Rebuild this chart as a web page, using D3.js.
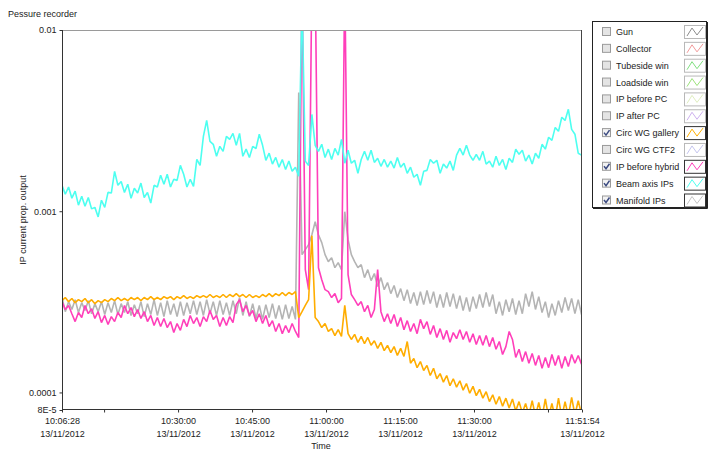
<!DOCTYPE html>
<html>
<head>
<meta charset="utf-8">
<script src="https://cdn.jsdelivr.net/npm/d3@7"></script>
<style>
  body { margin: 0; background: #fff; }
  text { font-family: "Liberation Sans", Arial, sans-serif; font-size: 9px; fill: #222; }
</style>
</head>
<body>
<div id="chart"></div>
<script>
// recording window, one sample every 40 s
var startTime = new Date(2012, 10, 13, 10, 6, 28);
var endTime = new Date(2012, 10, 13, 11, 51, 54);
var sampleStep = 40;

var beamAxisIPs = [
  1.39e-3,1.24e-3,1.36e-3,1.18e-3,1.29e-3,1.08e-3,1.21e-3,1.065e-3,1.19e-3,1.03e-3,
  1.05e-3,0.93e-3,1.15e-3,1.05e-3,1.27e-3,1.26e-3,1.66e-3,1.39e-3,1.46e-3,1.27e-3,
  1.41e-3,1.18e-3,1.34e-3,1.26e-3,1.43e-3,1.19e-3,1.27e-3,1.11e-3,1.39e-3,1.36e-3,
  1.58e-3,1.41e-3,1.60e-3,1.36e-3,1.50e-3,1.48e-3,1.79e-3,1.60e-3,1.36e-3,1.50e-3,
  1.37e-3,1.93e-3,1.79e-3,2.59e-3,3.17e-3,2.43e-3,2.34e-3,2.01e-3,2.28e-3,2.14e-3,
  2.59e-3,2.49e-3,2.69e-3,2.31e-3,2.69e-3,2.01e-3,2.20e-3,1.98e-3,2.28e-3,2.22e-3,
  2.66e-3,2.31e-3,1.91e-3,2.09e-3,1.82e-3,1.98e-3,1.75e-3,1.93e-3,1.70e-3,1.89e-3,
  1.66e-3,1.75e-3,1.56e-3,1.5e-2,1.89e-3,1.79e-3,3.42e-3,2.31e-3,2.14e-3,2.34e-3,
  1.98e-3,2.20e-3,1.93e-3,2.22e-3,2.04e-3,2.49e-3,1.84e-3,2.17e-3,1.84e-3,1.91e-3,
  1.62e-3,1.93e-3,2.14e-3,1.91e-3,2.17e-3,1.86e-3,1.96e-3,1.77e-3,1.93e-3,1.75e-3,
  1.89e-3,1.73e-3,1.98e-3,1.75e-3,1.84e-3,1.62e-3,1.75e-3,1.54e-3,1.60e-3,1.39e-3,
  1.66e-3,1.68e-3,1.93e-3,1.84e-3,1.91e-3,1.62e-3,1.82e-3,1.73e-3,1.89e-3,1.68e-3,
  2.04e-3,2.22e-3,2.04e-3,2.31e-3,2.04e-3,1.91e-3,2.06e-3,1.91e-3,2.14e-3,1.82e-3,
  1.89e-3,1.75e-3,2.01e-3,1.79e-3,1.93e-3,1.70e-3,1.96e-3,1.86e-3,2.20e-3,2.06e-3,
  2.17e-3,1.89e-3,2.04e-3,1.82e-3,2.09e-3,1.96e-3,2.34e-3,2.20e-3,2.56e-3,2.46e-3,
  2.90e-3,2.76e-3,3.30e-3,3.17e-3,3.65e-3,2.83e-3,2.66e-3,2.09e-3,2.04e-3
];

var circWGGallery = [
  3.21e-4,3.34e-4,3.17e-4,3.30e-4,3.13e-4,3.25e-4,3.17e-4,3.30e-4,3.13e-4,3.25e-4,
  3.09e-4,3.21e-4,3.13e-4,3.25e-4,3.17e-4,3.30e-4,3.21e-4,3.34e-4,3.21e-4,3.30e-4,
  3.21e-4,3.34e-4,3.25e-4,3.34e-4,3.21e-4,3.34e-4,3.25e-4,3.38e-4,3.25e-4,3.34e-4,
  3.25e-4,3.38e-4,3.30e-4,3.38e-4,3.25e-4,3.38e-4,3.30e-4,3.42e-4,3.30e-4,3.38e-4,
  3.30e-4,3.42e-4,3.34e-4,3.42e-4,3.34e-4,3.47e-4,3.34e-4,3.42e-4,3.34e-4,3.47e-4,
  3.34e-4,3.47e-4,3.38e-4,3.51e-4,3.38e-4,3.47e-4,3.34e-4,3.47e-4,3.34e-4,3.42e-4,
  3.34e-4,3.47e-4,3.38e-4,3.51e-4,3.38e-4,3.51e-4,3.42e-4,3.56e-4,3.42e-4,3.56e-4,
  3.47e-4,3.60e-4,2.59e-4,2.79e-4,3.02e-4,3.25e-4,7.33e-4,2.59e-4,2.46e-4,2.28e-4,
  2.40e-4,2.17e-4,2.25e-4,2.06e-4,2.22e-4,2.04e-4,3.02e-4,2.11e-4,1.96e-4,2.09e-4,
  1.89e-4,2.04e-4,1.86e-4,2.01e-4,1.82e-4,1.93e-4,1.75e-4,1.89e-4,1.70e-4,1.82e-4,
  1.66e-4,1.79e-4,1.60e-4,1.75e-4,1.58e-4,1.91e-4,1.45e-4,1.54e-4,1.37e-4,1.48e-4,
  1.32e-4,1.41e-4,1.24e-4,1.36e-4,1.19e-4,1.27e-4,1.14e-4,1.24e-4,1.09e-4,1.19e-4,
  1.07e-4,1.16e-4,1.03e-4,1.12e-4,0.99e-4,1.08e-4,0.96e-4,1.04e-4,0.93e-4,1.01e-4,
  0.89e-4,0.97e-4,0.86e-4,0.95e-4,0.84e-4,0.93e-4,0.82e-4,0.92e-4,0.79e-4,0.89e-4,
  0.77e-4,0.87e-4,0.75e-4,0.90e-4,0.74e-4,0.88e-4,0.73e-4,0.92e-4,0.73e-4,0.87e-4,
  0.72e-4,0.93e-4,0.73e-4,0.89e-4,0.74e-4,0.94e-4,0.75e-4,0.90e-4,0.76e-4
];

var ipBeforeHybrid = [
  3.17e-4,2.87e-4,3.02e-4,2.72e-4,2.46e-4,2.76e-4,2.59e-4,3.02e-4,2.72e-4,2.90e-4,
  2.56e-4,2.79e-4,2.43e-4,2.66e-4,2.37e-4,2.62e-4,2.46e-4,2.76e-4,2.59e-4,3.02e-4,
  2.72e-4,2.94e-4,2.62e-4,2.87e-4,2.56e-4,2.79e-4,2.46e-4,2.66e-4,2.34e-4,2.59e-4,
  2.31e-4,2.56e-4,2.28e-4,2.46e-4,2.14e-4,2.40e-4,2.20e-4,2.53e-4,2.31e-4,2.66e-4,
  2.40e-4,2.59e-4,2.31e-4,2.62e-4,2.46e-4,2.83e-4,2.53e-4,2.66e-4,2.31e-4,2.59e-4,
  2.34e-4,2.62e-4,2.43e-4,3.05e-4,3.25e-4,2.79e-4,3.02e-4,2.66e-4,2.83e-4,2.46e-4,
  2.72e-4,2.40e-4,2.66e-4,2.31e-4,2.49e-4,2.17e-4,2.40e-4,2.11e-4,2.34e-4,2.14e-4,
  2.40e-4,2.17e-4,2.01e-4,2.0e-2,4.76e-4,3.69e-4,2.0e-2,2.0e-2,4.88e-4,4.19e-4,
  3.69e-4,3.60e-4,3.34e-4,3.51e-4,3.13e-4,3.30e-4,2.0e-2,4.47e-4,3.47e-4,3.25e-4,
  3.02e-4,3.17e-4,2.79e-4,3.02e-4,2.59e-4,2.87e-4,4.76e-4,2.79e-4,2.46e-4,2.72e-4,
  2.40e-4,2.69e-4,2.31e-4,2.59e-4,2.22e-4,2.49e-4,2.17e-4,2.40e-4,2.11e-4,2.53e-4,
  2.25e-4,2.46e-4,2.09e-4,2.34e-4,2.01e-4,2.25e-4,1.96e-4,2.20e-4,1.89e-4,2.14e-4,
  1.98e-4,2.22e-4,1.96e-4,2.17e-4,1.89e-4,2.11e-4,1.84e-4,2.06e-4,1.82e-4,2.06e-4,
  1.79e-4,2.01e-4,1.73e-4,1.91e-4,1.62e-4,1.79e-4,2.17e-4,1.96e-4,1.56e-4,1.73e-4,
  1.48e-4,1.68e-4,1.45e-4,1.64e-4,1.41e-4,1.60e-4,1.36e-4,1.56e-4,1.37e-4,1.62e-4,
  1.41e-4,1.60e-4,1.36e-4,1.58e-4,1.39e-4,1.62e-4,1.45e-4,1.60e-4,1.43e-4
];

var manifoldIPs = [
  3.34e-4,2.79e-4,3.17e-4,2.87e-4,3.25e-4,2.76e-4,3.13e-4,2.83e-4,3.21e-4,2.72e-4,
  3.09e-4,2.79e-4,3.17e-4,2.69e-4,3.13e-4,2.76e-4,3.21e-4,2.69e-4,3.09e-4,2.76e-4,
  3.17e-4,2.66e-4,3.05e-4,2.72e-4,3.17e-4,2.62e-4,3.09e-4,2.69e-4,3.25e-4,2.66e-4,
  3.13e-4,2.62e-4,3.21e-4,2.69e-4,3.09e-4,2.62e-4,3.17e-4,2.66e-4,3.13e-4,2.72e-4,
  3.21e-4,2.69e-4,3.17e-4,2.66e-4,3.25e-4,2.72e-4,3.17e-4,2.66e-4,3.21e-4,2.69e-4,
  3.13e-4,2.66e-4,3.21e-4,2.72e-4,3.34e-4,2.66e-4,3.17e-4,2.62e-4,3.09e-4,2.56e-4,
  3.02e-4,2.53e-4,3.05e-4,2.59e-4,3.09e-4,2.56e-4,3.02e-4,2.53e-4,3.05e-4,2.56e-4,
  2.98e-4,2.53e-4,4.52e-3,5.76e-4,6.14e-4,6.54e-4,7.42e-4,8.75e-4,7.42e-4,6.71e-4,
  5.76e-4,5.27e-4,5.54e-4,4.88e-4,5.20e-4,4.76e-4,9.94e-4,6.97e-4,5.76e-4,5.27e-4,
  4.88e-4,5.07e-4,4.30e-4,4.76e-4,4.14e-4,4.53e-4,3.84e-4,4.30e-4,3.69e-4,4.04e-4,
  3.51e-4,3.89e-4,3.34e-4,3.74e-4,3.21e-4,3.69e-4,3.09e-4,3.56e-4,3.02e-4,3.60e-4,
  3.05e-4,3.65e-4,3.09e-4,3.60e-4,2.94e-4,3.47e-4,2.94e-4,3.56e-4,2.98e-4,3.51e-4,
  2.90e-4,3.42e-4,2.83e-4,3.34e-4,2.79e-4,3.38e-4,2.90e-4,3.47e-4,2.94e-4,3.56e-4,
  2.98e-4,3.47e-4,2.72e-4,3.17e-4,2.66e-4,3.25e-4,2.79e-4,3.30e-4,2.69e-4,3.21e-4,
  2.72e-4,3.51e-4,2.98e-4,3.60e-4,2.87e-4,3.38e-4,2.76e-4,3.17e-4,2.59e-4,3.09e-4,
  2.66e-4,3.21e-4,2.76e-4,3.34e-4,2.83e-4,3.30e-4,2.72e-4,3.25e-4,2.69e-4
];

var yTickValues = [1e-2, 1e-3, 1e-4, 8e-5];
var yTickLabels = ["0.01", "0.001", "0.0001", "8E-5"];
var xTickTimes = ["10:06:28", "10:15:00", "10:30:00", "10:45:00", "11:00:00", "11:15:00", "11:30:00", "11:45:00", "11:51:54"];
var xTickLabels = ["10:06:28", "", "10:30:00", "10:45:00", "11:00:00", "11:15:00", "11:30:00", "", "11:51:54"];
var dateLabel = "13/11/2012";

var legendNames = ["Gun", "Collector", "Tubeside win", "Loadside win", "IP before PC", "IP after PC",
  "Circ WG gallery", "Circ WG CTF2", "IP before hybrid", "Beam axis IPs", "Manifold IPs"];
var legendColors = ["#8c8c8c", "#f29a9a", "#7ee07e", "#9be27a", "#dfeec0", "#cdb0ef",
  "#ffb000", "#c4c4ee", "#ff3fba", "#4dfff0", "#c4c4c4"];
var legendChecked = [0, 0, 0, 0, 0, 0, 1, 0, 1, 1, 1];

var W = 715, H = 451;
var plotLeft = 62, plotRight = 582, plotTop = 30, plotBottom = 410;

var svg = d3.select("#chart").append("svg")
    .attr("width", W)
    .attr("height", H);

var x = d3.scaleTime().domain([startTime, endTime]).range([plotLeft, plotRight]);
var y = d3.scaleLog().domain([8e-5, 1e-2]).range([plotBottom, plotTop]);

var times = beamAxisIPs.map(function (d, i) {
    return new Date(startTime.getTime() + i * sampleStep * 1000);
});

svg.append("text")
    .attr("x", 8).attr("y", 17)
    .text("Pessure recorder");

svg.append("defs").append("clipPath").attr("id", "plotclip")
    .append("rect")
    .attr("x", plotLeft).attr("y", plotTop)
    .attr("width", plotRight - plotLeft).attr("height", plotBottom - plotTop);

// plots, drawn back to front
var plots = [
    { values: manifoldIPs, color: "#b4b4b4" },
    { values: ipBeforeHybrid, color: "#ff3fba" },
    { values: circWGGallery, color: "#ffad00" },
    { values: beamAxisIPs, color: "#4dfff0" }
];

var line = d3.line()
    .x(function (d) { return x(d.t); })
    .y(function (d) { return y(d.v); });

var plotG = svg.append("g").attr("clip-path", "url(#plotclip)");
plots.forEach(function (p) {
    var pts = p.values.map(function (v, i) { return { t: times[i], v: v }; });
    plotG.append("path")
        .datum(pts)
        .attr("fill", "none")
        .attr("stroke", p.color)
        .attr("stroke-width", 1.6)
        .attr("stroke-linejoin", "bevel")
        .attr("d", line);
});

// frame
svg.append("line").attr("x1", plotLeft).attr("x2", plotRight).attr("y1", plotTop + 0.5).attr("y2", plotTop + 0.5)
    .attr("stroke", "#9a9a9a");
svg.append("line").attr("x1", plotRight - 0.5).attr("x2", plotRight - 0.5).attr("y1", plotTop).attr("y2", plotBottom)
    .attr("stroke", "#444");

// y axis
var yAxis = d3.axisLeft(y)
    .tickValues(yTickValues)
    .tickFormat(function (d, i) { return yTickLabels[i]; })
    .tickSize(3)
    .tickPadding(3);

var yG = svg.append("g").attr("transform", "translate(" + (plotLeft + 0.5) + ",0)").call(yAxis);
yG.attr("font-size", null).attr("font-family", null);
yG.select(".domain").attr("stroke", "#333").attr("d", "M0," + plotTop + "V" + plotBottom);
yG.selectAll(".tick line").attr("stroke", "#333");
yG.selectAll("text").style("fill", "#222");

// x axis
var parseT = d3.timeParse("%H:%M:%S");
var xTicks = xTickTimes.map(function (s) {
    var p = parseT(s);
    return new Date(2012, 10, 13, p.getHours(), p.getMinutes(), p.getSeconds());
});

var xAxis = d3.axisBottom(x)
    .tickValues(xTicks)
    .tickFormat("")
    .tickSize(3);

var xG = svg.append("g").attr("transform", "translate(0," + (plotBottom - 0.5) + ")").call(xAxis);
xG.attr("font-size", null).attr("font-family", null);
xG.select(".domain").attr("stroke", "#333").attr("d", "M" + plotLeft + ",0H" + plotRight);
xG.selectAll(".tick line").attr("stroke", "#333");

xG.selectAll(".tick").each(function (d, i) {
    if (!xTickLabels[i]) return;
    var t = d3.select(this).append("text")
        .attr("text-anchor", "middle")
        .attr("y", 14);
    t.append("tspan").attr("x", 0).attr("dy", 0).text(xTickLabels[i]);
    t.append("tspan").attr("x", 0).attr("dy", 13).text(dateLabel);
});

svg.append("text")
    .attr("x", (plotLeft + plotRight) / 2 - 1).attr("y", 449)
    .attr("text-anchor", "middle")
    .text("Time");

svg.append("text")
    .attr("transform", "translate(26," + ((plotTop + plotBottom) / 2) + ") rotate(-90)")
    .attr("text-anchor", "middle")
    .text("IP current prop. output");

// legend
var lg = svg.append("g");
lg.append("rect")
    .attr("x", 592.5).attr("y", 21.5)
    .attr("width", 114).attr("height", 186)
    .attr("fill", "#fff")
    .attr("stroke", "#222");
lg.append("path")
    .attr("d", "M593,208.5H707.5V22")
    .attr("fill", "none")
    .attr("stroke", "#222")
    .attr("stroke-width", 1);

var rowY = function (i) { return 32 + i * 16.85; };

legendNames.forEach(function (name, i) {
    var cy = rowY(i);
    var row = lg.append("g");
    row.append("rect")
        .attr("x", 602.5).attr("y", cy - 4.5)
        .attr("width", 8).attr("height", 8)
        .attr("fill", legendChecked[i] ? "#f2f2f2" : "#e4e4e4")
        .attr("stroke", "#9a9a9a");
    if (legendChecked[i]) {
        row.append("path")
            .attr("d", "M604," + (cy - 0.5) + "L606," + (cy + 2) + "L609.5," + (cy - 3))
            .attr("fill", "none")
            .attr("stroke", "#3b4a80")
            .attr("stroke-width", 1.5);
    }
    row.append("text")
        .attr("x", 616).attr("y", cy + 3)
        .text(name);
    row.append("rect")
        .attr("x", 684.5).attr("y", cy - 6.5)
        .attr("width", 21).attr("height", 13)
        .attr("fill", "#fff")
        .attr("stroke", legendChecked[i] ? "#333" : "#b8b8b8");
    row.append("polyline")
        .attr("points", [[687, cy + 4], [692, cy - 4], [697, cy + 3], [703, cy - 5]].join(" "))
        .attr("fill", "none")
        .attr("stroke", legendColors[i])
        .attr("stroke-width", 1);
});
</script>
</body>
</html>
